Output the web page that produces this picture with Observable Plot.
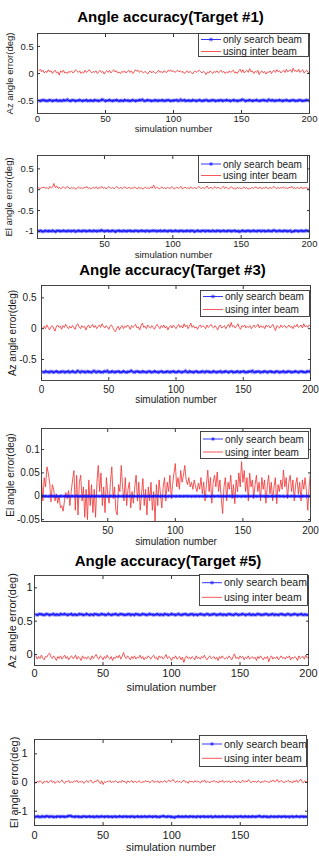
<!DOCTYPE html>
<html>
<head>
<meta charset="utf-8">
<script src="https://cdn.jsdelivr.net/npm/d3@7"></script>
<script src="https://cdn.jsdelivr.net/npm/@observablehq/plot@0.6"></script>
<style>
  html, body { margin: 0; padding: 0; background: #fff; }
  #page { position: relative; width: 319px; height: 859px; overflow: hidden;
          font-family: "Liberation Sans", Arial, sans-serif; }
  .title { position: absolute; width: 300px; text-align: center; font-weight: bold;
           font-size: 15px; line-height: 15px; color: #000; white-space: nowrap; }
  .panel, .legend { position: absolute; left: 0; overflow: visible; }
</style>
</head>
<body>
<div id="page"></div>
<script>
// ---- text ----
const titles = ["Angle accuracy(Target #1)", "Angle accuracy(Target #3)", "Angle accuracy(Target #5)"];
const seriesNames = ["only search beam", "using inter beam"];
const xLabel = "simulation number";
const yLabels = ["Az angle error(deg)", "El angle error(deg)"];

// ---- tick values ----
const xTicksFull = [0, 50, 100, 150, 200];
const xTicksNoZero = [50, 100, 150, 200];
const xTicksLast = [0, 50, 100, 150];
const yTicksAz1 = [-0.5, 0, 0.5];
const yTicksEl1 = [-1, -0.5, 0, 0.5];
const yTicksAz3 = [-0.5, 0, 0.5];
const yTicksEl3 = [-0.05, 0, 0.05, 0.1];
const yTicksAz5 = [0, 0.5, 1];
const yTicksEl5 = [-1, 0, 1];

// ---- Target #1, azimuth error (deg) per simulation ----
const az1Search = [
-.5,-.51,-.5,-.49,-.5,-.5,-.51,-.5,-.49,-.5,-.51,-.5,-.5,-.49,-.51,-.5,-.5,-.51,-.49,-.5,
-.5,-.48,-.5,-.51,-.5,-.49,-.5,-.51,-.5,-.5,-.49,-.5,-.51,-.5,-.5,-.49,-.51,-.5,-.5,-.5,
-.51,-.49,-.5,-.5,-.51,-.5,-.49,-.48,-.5,-.51,-.5,-.5,-.49,-.5,-.51,-.5,-.5,-.49,-.5,-.51,
-.5,-.5,-.51,-.49,-.5,-.5,-.5,-.51,-.5,-.49,-.5,-.51,-.5,-.5,-.49,-.5,-.48,-.5,-.51,-.5,
-.49,-.5,-.5,-.51,-.5,-.5,-.49,-.51,-.5,-.5,-.5,-.49,-.51,-.5,-.5,-.49,-.5,-.51,-.5,-.5,
-.5,-.49,-.5,-.51,-.48,-.5,-.5,-.49,-.51,-.5,-.5,-.5,-.51,-.49,-.5,-.5,-.51,-.5,-.49,-.5,
-.51,-.5,-.5,-.49,-.5,-.51,-.5,-.5,-.49,-.5,-.51,-.5,-.5,-.5,-.49,-.51,-.5,-.5,-.49,-.5,
-.5,-.51,-.5,-.49,-.5,-.5,-.51,-.5,-.5,-.49,-.48,-.5,-.51,-.5,-.5,-.49,-.5,-.51,-.5,-.5,
-.49,-.5,-.51,-.5,-.5,-.49,-.5,-.5,-.51,-.48,-.5,-.5,-.49,-.51,-.5,-.5,-.5,-.49,-.5,-.51,
-.5,-.5,-.49,-.5,-.51,-.5,-.5,-.49,-.5,-.51,-.5,-.5,-.49,-.5,-.51,-.5,-.5,-.49,-.5,-.5];
const az1Inter = [
.05,.08,.03,.06,.01,.04,.02,.07,.03,.05,0,.04,.06,.01,.03,-.03,.05,.02,.06,.01,
.03,0,.04,.02,.05,.01,.03,.07,.04,.02,.05,0,.03,.01,.06,.02,.04,.07,.03,.01,
.04,.02,.05,0,.03,.06,.02,.04,-.01,.03,.05,.02,.06,.01,.04,.07,.03,.05,.01,.03,
0,.04,.02,.05,.01,.03,.06,.02,.05,0,.03,.07,.04,.06,.02,.05,.03,.01,.04,.02,
-.01,.03,.05,.01,.04,.02,0,.03,.06,.02,.04,.01,.05,.03,.02,.06,.04,.07,.03,.05,
.02,.04,.06,.03,.05,.02,.04,0,.03,.05,.01,.04,.02,-.01,.03,.05,.02,.04,.06,.03,
.01,.04,.02,-.02,.03,.01,.05,.02,0,.04,.02,.05,.01,.03,.06,.02,.04,0,.03,.01,
.05,.02,.04,.06,.01,.03,0,.05,.08,.02,.07,.01,.04,.06,.02,.09,.03,.05,0,.04,
.02,.06,-.02,.03,.05,.01,.04,-.01,.03,.02,.05,0,.04,.06,.02,.07,.03,.05,.01,.04,
.06,.02,.08,.03,.05,.07,.02,.1,.04,.06,.03,.08,.02,.05,.07,.01,.04,.06,.02,.03];

// ---- Target #1, elevation error (deg) ----
const el1Search = [
-.99,-1,-.98,-.99,-1.01,-.99,-.98,-1,-.99,-.99,-1,-.98,-.99,-1.01,-.99,-.98,-.99,-1,-.99,-.98,
-.99,-1,-.99,-.98,-1,-.99,-.99,-.98,-1.01,-.99,-.98,-.99,-1,-.99,-.98,-.99,-1,-.99,-.98,-.99,
-1,-.98,-.99,-.99,-1,-.98,-.99,-.97,-.99,-1,-.99,-.98,-.99,-1,-.99,-.98,-.99,-1.01,-.99,-.98,
-.99,-.99,-1,-.98,-.99,-1,-.99,-.98,-.99,-.99,-1,-.99,-.98,-.99,-1,-.99,-.98,-.99,-.99,-1,
-.98,-.99,-1,-.99,-.98,-.99,-.98,-1,-.99,-.99,-.98,-1,-.99,-.98,-.99,-1,-.99,-.98,-.99,-1,
-.99,-.98,-.99,-1,-.99,-.98,-.99,-1,-.99,-.99,-.98,-1,-.99,-.98,-.99,-1.01,-.99,-.98,-.99,-1,
-.99,-.98,-.99,-1,-.98,-.99,-.99,-1,-.98,-.99,-1,-.99,-.98,-.99,-1,-.99,-.98,-.99,-1,-.99,
-.98,-.99,-1,-.99,-.98,-.99,-1,-.99,-1.01,-.99,-.98,-.99,-1,-.99,-.98,-.99,-1,-.99,-.98,-.99,
-1,-.99,-.98,-.99,-1,-.98,-.99,-1,-.99,-.98,-.99,-1,-.99,-.97,-.99,-1,-.99,-.98,-.99,-1,
-.99,-.98,-.99,-1,-.99,-.98,-1.01,-1,-.99,-.98,-.99,-1,-.99,-.98,-.99,-1,-.98,-.98,-.99,-1];
const el1Inter = [
.03,.05,.02,.06,.04,.07,.03,.05,.02,.08,.04,.06,.15,.05,.09,.03,.06,.02,.05,.07,
.03,.05,.08,.04,.02,.06,.03,.05,.01,.04,.07,.03,.05,.02,.06,.04,.08,.03,.05,.02,
.04,.06,.03,.07,.02,.05,.04,.08,.03,.06,.02,.04,.07,.05,.03,.06,.02,.05,.08,.04,
.03,.06,.02,.05,.07,.03,.04,.06,.02,.05,.03,.07,.04,.02,.06,.03,.05,.01,.04,.06,
.03,.05,.02,.07,.04,.11,.03,.06,.05,.02,.04,.07,.03,.05,.02,.06,.04,.03,.07,.05,
.02,.04,.06,.03,.05,.08,.02,.04,.06,.03,.05,.02,.07,.04,.03,.06,.02,.05,.08,.04,
.03,.06,.02,.05,.09,.03,.04,.06,.02,.05,.07,.03,.06,.04,.02,.05,.08,.03,.06,.04,
.02,.05,.07,.03,.04,.01,.06,.03,.05,.02,.04,.07,.03,.05,.01,.04,.02,.06,.03,.05,
.07,.03,.04,.06,.02,.05,.03,.07,.04,.02,.06,.03,.05,.08,.04,.02,.06,.03,.05,.04,
.07,.03,.05,.02,.06,.04,.08,.03,.05,.02,.06,.04,.03,.07,.02,.05,.04,.06,.01,.05];

// ---- Target #3, azimuth error (deg) ----
const az3Search = [
-.7,-.71,-.69,-.7,-.7,-.71,-.69,-.7,-.71,-.7,-.69,-.7,-.71,-.7,-.7,-.69,-.71,-.7,-.7,-.69,
-.71,-.7,-.69,-.7,-.71,-.7,-.68,-.7,-.71,-.69,-.7,-.7,-.71,-.69,-.7,-.7,-.71,-.7,-.68,-.7,
-.71,-.69,-.7,-.7,-.71,-.7,-.69,-.7,-.68,-.71,-.7,-.7,-.69,-.71,-.7,-.7,-.69,-.7,-.71,-.7,
-.69,-.7,-.71,-.7,-.7,-.69,-.68,-.7,-.71,-.7,-.69,-.7,-.7,-.71,-.69,-.7,-.7,-.71,-.7,-.69,
-.7,-.71,-.7,-.69,-.7,-.7,-.71,-.7,-.69,-.7,-.71,-.7,-.7,-.69,-.71,-.7,-.7,-.69,-.7,-.71,
-.7,-.69,-.7,-.71,-.7,-.7,-.68,-.7,-.71,-.69,-.7,-.7,-.71,-.7,-.69,-.7,-.71,-.7,-.7,-.69,
-.71,-.7,-.69,-.7,-.7,-.71,-.7,-.69,-.7,-.71,-.7,-.7,-.69,-.71,-.7,-.7,-.69,-.7,-.71,-.7,
-.69,-.7,-.71,-.7,-.7,-.69,-.71,-.7,-.7,-.69,-.7,-.71,-.7,-.7,-.69,-.7,-.68,-.71,-.7,-.7,
-.69,-.7,-.71,-.7,-.7,-.69,-.7,-.71,-.7,-.69,-.7,-.7,-.71,-.7,-.69,-.7,-.71,-.7,-.7,-.69,
-.71,-.7,-.7,-.69,-.7,-.71,-.7,-.7,-.69,-.7,-.71,-.7,-.69,-.7,-.7,-.71,-.7,-.69,-.7,-.68];
const az3Inter = [
.01,.04,0,.06,.02,-.02,.03,.05,.01,-.04,.03,.06,.02,.04,-.01,.05,.02,.07,.03,0,
.04,.01,.05,.02,-.01,.06,.08,.03,0,.05,.02,.04,-.02,.03,.06,.01,.04,.07,.02,.05,
0,.03,.06,.02,.08,.04,.01,.05,.03,-.01,.04,.06,.02,-.03,-.05,.01,.04,-.02,.03,.05,
0,.04,.02,.06,.03,-.01,.05,.02,.04,.07,.01,.03,-.02,.05,.09,.02,.04,0,.06,.03,
.01,.05,.02,-.01,.04,.07,.03,0,.05,.02,.06,.01,.04,-.02,.03,.05,.01,.06,.03,0,
.04,.07,.02,.05,.01,.08,.03,.06,0,.04,.09,.02,.05,.01,.03,-.01,.04,.06,.02,.05,
.03,0,.06,.02,.04,.07,.03,.01,.05,.02,-.02,.04,.06,.01,.03,.05,0,.04,.07,.02,
.1,.03,.05,.01,.04,.08,.02,-.01,.05,.03,.06,.01,.04,.02,.05,0,.03,.06,.02,.04,
.07,.01,.05,.02,.04,0,.06,.03,.05,.01,.04,.07,.02,-.03,.05,.03,.01,.06,.02,.04,
.05,.01,.03,.06,.02,.04,0,.05,.03,.07,.02,.04,.06,.01,.08,.03,.05,.02,.06,.04];

// ---- Target #3, elevation error (deg) ----
const el3Search = [
0,.0004,-.0003,.0002,0,-.0005,.0003,0,.0006,-.0002,0,.0003,-.0004,.0001,0,.0005,-.0003,.0002,0,-.0001,
.0003,-.0002,0,.0004,-.0003,.0001,.0005,0,-.0004,.0002,.0001,-.0003,.0004,0,-.0002,.0003,-.0005,.0001,.0002,0,
-.0002,.0004,0,-.0003,.0002,.0005,-.0001,0,.0003,-.0004,.0001,0,.0004,-.0002,.0003,0,-.0005,.0002,.0001,-.0003,
.0004,0,-.0002,.0003,-.0001,0,.0005,-.0003,.0002,0,-.0004,.0001,.0003,-.0002,0,.0004,-.0001,.0002,-.0003,0,
.0003,-.0004,.0001,0,.0005,-.0002,.0003,0,-.0003,.0004,-.0001,.0002,0,-.0005,.0003,.0001,-.0002,0,.0004,-.0003,
.0002,0,-.0001,.0004,-.0003,.0001,0,.0005,-.0002,.0003,0,-.0004,.0002,.0001,-.0003,.0004,0,-.0002,.0003,-.0001,
0,.0005,-.0003,.0002,0,-.0004,.0001,.0003,-.0002,0,.0004,-.0001,.0002,-.0003,0,.0003,-.0004,.0001,0,.0005,
-.0002,.0003,0,-.0003,.0004,-.0001,.0002,0,-.0005,.0003,.0001,-.0002,0,.0004,-.0003,.0002,0,-.0001,.0004,-.0003,
.0001,0,.0005,-.0002,.0003,0,-.0004,.0002,.0001,-.0003,.0004,0,-.0002,.0003,-.0001,0,.0005,-.0003,.0002,0,
-.0004,.0001,.0003,-.0002,0,.0004,-.0001,.0002,-.0003,0,.0003,-.0004,.0001,0,.0005,-.0002,.0003,0,-.0003,.0002];
const el3Inter = [
.035,-.01,.04,.02,.063,.05,.03,-.012,.025,.015,-.01,.005,-.015,.002,-.025,-.02,-.032,-.01,.008,-.005,
.012,-.02,.01,.035,.055,-.03,.045,-.04,.03,.045,-.01,.02,-.045,.015,-.05,.035,-.02,.025,-.035,.015,
-.045,.03,.066,.01,.05,-.02,.02,-.035,.04,.005,-.015,.03,.063,-.005,.02,-.03,-.04,.025,.01,.066,
.02,-.01,.04,-.02,.015,.03,-.025,.01,-.015,.02,.045,-.01,.03,-.03,.005,.038,-.02,.015,-.04,.02,
-.01,.03,-.03,.01,-.055,.025,-.02,.035,.005,-.025,.02,.04,-.01,.03,.01,.045,-.005,.025,.05,.07,
.02,.04,.015,.055,.03,.045,.066,.035,.025,.04,.02,.03,.015,.035,.02,.01,.028,.015,.04,.005,
.03,-.01,.025,.056,.01,.04,-.015,.03,.045,.02,.052,.01,.035,-.005,-.037,.02,.04,-.01,.03,.015,
.045,-.005,.025,-.016,.035,.01,.05,.02,.074,.03,.055,.01,.04,-.01,.05,.02,.035,-.005,.025,.045,
.01,.03,-.01,.04,.015,.035,-.015,.02,.045,.005,.03,-.01,.02,.04,-.016,.025,.01,.035,.015,.056,
.02,.04,-.005,.03,.045,.01,.035,-.01,.025,.04,.005,.03,-.01,.035,.015,.04,.01,-.03,.02,.052];

// ---- Target #5, azimuth error (deg) ----
const az5Search = [
.6,.59,.6,.61,.6,.6,.59,.6,.61,.6,.59,.6,.6,.61,.59,.6,.6,.59,.61,.6,
.6,.61,.6,.59,.6,.6,.61,.59,.6,.6,.59,.6,.61,.6,.6,.59,.6,.61,.6,.59,
.6,.6,.59,.61,.6,.6,.59,.6,.61,.6,.6,.59,.6,.61,.6,.59,.6,.6,.61,.6,
.59,.6,.61,.6,.6,.59,.6,.6,.61,.59,.6,.6,.59,.61,.6,.6,.59,.6,.61,.6,
.6,.59,.6,.61,.6,.6,.59,.6,.6,.61,.59,.6,.6,.59,.61,.6,.6,.59,.6,.61,
.6,.6,.59,.6,.61,.6,.59,.6,.6,.61,.6,.59,.6,.6,.61,.59,.6,.6,.59,.6,
.61,.6,.6,.59,.6,.61,.6,.59,.6,.6,.61,.6,.59,.6,.6,.61,.59,.6,.6,.59,
.6,.61,.6,.6,.59,.6,.61,.6,.59,.6,.6,.61,.6,.59,.6,.6,.61,.59,.6,.6,
.59,.6,.61,.6,.6,.59,.6,.6,.61,.6,.59,.6,.6,.61,.59,.6,.6,.59,.6,.61,
.6,.6,.59,.6,.61,.6,.59,.6,.6,.61,.6,.59,.6,.6,.61,.59,.6,.6,.59,.6];
const az5Inter = [
-.02,-.07,-.03,-.06,-.01,-.05,-.08,-.03,-.04,0,.02,-.04,-.06,-.02,-.05,-.09,-.03,-.06,-.02,-.07,
-.04,-.01,-.06,-.03,-.08,-.04,-.02,-.06,-.05,-.01,-.07,-.03,-.05,-.09,-.02,-.06,-.04,-.07,-.03,-.05,
-.08,-.02,-.06,-.03,0,-.05,-.07,-.02,-.04,-.08,-.03,-.06,-.01,-.05,-.07,-.03,-.09,-.04,-.06,-.02,
-.05,-.01,-.07,-.03,.03,-.04,-.06,-.02,-.05,-.08,-.03,-.06,-.02,-.07,-.04,-.05,-.01,-.06,-.03,-.08,
-.04,-.06,-.02,-.05,-.07,-.03,-.01,-.06,-.04,-.08,-.02,-.05,-.03,-.07,-.04,0,-.06,-.03,-.05,-.09,
-.04,-.06,-.02,-.07,-.05,-.03,-.08,-.04,-.12,-.05,-.02,-.06,-.04,-.07,-.03,-.05,-.08,-.02,-.06,-.04,
-.07,-.03,-.05,-.01,-.06,-.08,-.04,-.02,-.06,-.05,-.03,-.07,-.04,-.09,-.03,-.06,-.02,-.05,-.07,-.04,
-.06,-.02,-.05,-.08,-.03,.01,-.06,-.04,-.07,-.02,-.05,-.03,-.08,-.04,-.06,-.02,-.07,-.05,-.03,-.06,
-.04,-.09,-.03,-.06,-.02,-.05,-.08,-.04,-.06,-.03,-.11,-.05,-.02,-.07,-.04,-.06,-.03,-.08,-.05,-.02,
-.06,-.04,-.07,-.03,-.05,-.02,-.08,-.04,-.06,-.03,-.05,-.09,-.02,-.06,-.04,-.03,-.07,-.01,-.05,-.04];

// ---- Target #5, elevation error (deg), simulations 0..199 ----
const el5Search = [
-1.19,-1.2,-1.18,-1.19,-1.21,-1.19,-1.18,-1.2,-1.19,-1.17,-1.19,-1.2,-1.18,-1.19,-1.21,-1.19,-1.2,-1.18,-1.19,-1.2,
-1.18,-1.19,-1.2,-1.19,-1.18,-1.17,-1.16,-1.18,-1.19,-1.2,-1.19,-1.18,-1.2,-1.19,-1.21,-1.19,-1.18,-1.19,-1.2,-1.19,
-1.18,-1.2,-1.19,-1.19,-1.21,-1.18,-1.19,-1.2,-1.19,-1.18,-1.19,-1.2,-1.19,-1.18,-1.2,-1.19,-1.19,-1.21,-1.18,-1.19,
-1.2,-1.19,-1.18,-1.19,-1.2,-1.19,-1.18,-1.2,-1.19,-1.19,-1.2,-1.18,-1.19,-1.21,-1.19,-1.18,-1.2,-1.19,-1.19,-1.2,
-1.18,-1.19,-1.2,-1.19,-1.18,-1.19,-1.2,-1.19,-1.18,-1.2,-1.19,-1.21,-1.19,-1.18,-1.17,-1.19,-1.2,-1.19,-1.18,-1.2,
-1.19,-1.21,-1.22,-1.2,-1.19,-1.18,-1.2,-1.19,-1.19,-1.2,-1.18,-1.19,-1.2,-1.19,-1.18,-1.2,-1.19,-1.19,-1.21,-1.18,
-1.19,-1.2,-1.19,-1.18,-1.2,-1.19,-1.19,-1.2,-1.18,-1.19,-1.21,-1.19,-1.18,-1.2,-1.19,-1.19,-1.2,-1.18,-1.19,-1.2,
-1.19,-1.18,-1.2,-1.19,-1.19,-1.21,-1.18,-1.19,-1.2,-1.19,-1.18,-1.19,-1.2,-1.19,-1.18,-1.2,-1.19,-1.19,-1.2,-1.18,
-1.19,-1.2,-1.19,-1.18,-1.17,-1.19,-1.2,-1.19,-1.18,-1.2,-1.19,-1.21,-1.19,-1.18,-1.2,-1.19,-1.19,-1.2,-1.18,-1.19,
-1.2,-1.19,-1.18,-1.2,-1.19,-1.19,-1.21,-1.18,-1.19,-1.2,-1.19,-1.18,-1.19,-1.2,-1.19,-1.18,-1.2,-1.19,-1.19,-1.2];
const el5Inter = [
.02,-.03,.05,0,.07,.02,-.04,.04,.01,.06,-.02,.03,.08,0,.05,-.03,.02,.06,-.01,.04,
.09,.01,-.03,.05,.02,.07,-.02,.03,0,.06,.02,.08,-.01,.04,.01,.05,-.03,.02,.07,0,
.04,.09,.01,-.02,.05,.03,.1,.02,-.04,.06,-.07,.03,0,.05,.02,.07,-.01,.04,.01,.06,
.03,-.02,.05,0,.08,.02,.04,-.03,.06,.01,.03,.07,-.01,.05,.02,0,.06,.03,-.02,.04,
.01,.07,.02,.05,-.01,.03,.08,0,.04,.02,.06,-.02,.05,.01,.03,.07,0,.04,.09,.02,
.05,.11,.03,0,.06,.02,.04,-.01,.05,.08,.01,.03,-.03,.06,.02,.04,0,.07,.01,.05,
.02,-.02,.06,.03,.09,0,.04,.02,-.01,.05,.03,.07,.01,.04,-.02,.06,.02,.08,0,.03,
.05,.01,.06,-.01,.04,.02,.07,0,.03,.05,-.02,.04,.08,.01,.06,.02,.1,.03,-.01,.05,
.02,.04,0,.06,.03,-.02,.05,.01,.07,.02,.04,-.01,.06,.03,.09,.02,.05,.11,.01,.04,
.07,.02,-.01,.05,.03,.08,.01,.04,-.02,.06,.02,.09,0,.05,.12,.03,-.01,.06,.02,.04];

// ---- styling ----
const BLUE = "#1010ff";
const RED = "#f23a3a";
const AXIS = "#333";
const INK = "#1a1a1a";
const FONT = "Liberation Sans, Arial, Helvetica, sans-serif";

// Layout of each subplot (pixel boxes of the svg and its axes frame).
const panels = [
  { title: 0, ylabel: 0, search: az1Search, inter: az1Inter, x0: 1,
    svg: [26, 136], frame: [37, 309, 33, 113], xDomain: [0, 200], xTicks: xTicksFull,
    yDomain: [-0.74, 0.74], yTicks: yTicksAz1, font: 9.5, xPad: 1.6, yPad: 3.7, xLabelOffset: 18.3, yLabelX: 10,
    legend: { left: 198, top: 33, w: 111, h: 24, r1: 6.5, r2: 18.5, font: 10 } },
  { ylabel: 1, search: el1Search, inter: el1Inter, x0: 1,
    svg: [145, 262], frame: [37, 309, 155, 238], xDomain: [1, 200], xTicks: xTicksNoZero,
    yDomain: [-1.17, 0.82], yTicks: yTicksEl1, font: 9.5, xPad: 1.9, yPad: 3.7, xLabelOffset: 19.9, yLabelX: 9,
    legend: { left: 198, top: 155, w: 110, h: 28, r1: 9, r2: 20.5, font: 10 } },
  { title: 1, ylabel: 0, search: az3Search, inter: az3Inter, x0: 1,
    svg: [279, 405], frame: [41, 310, 285, 380], xDomain: [0, 200], xTicks: xTicksFull,
    yDomain: [-0.84, 0.70], yTicks: yTicksAz3, font: 10, xPad: 5.2, yPad: 5, xLabelOffset: 22.6, yLabelX: 12.5,
    legend: { left: 200, top: 290, w: 110, h: 27, r1: 6.5, r2: 19.5, font: 10 } },
  { ylabel: 1, search: el3Search, inter: el3Inter, x0: 1,
    svg: [418, 548], frame: [41, 310, 428, 521], xDomain: [1, 200], xTicks: xTicksNoZero,
    yDomain: [-0.054, 0.145], yTicks: yTicksEl3, font: 10, xPad: 5, yPad: 1.8, xLabelOffset: 23.6, yLabelX: 10,
    legend: { left: 200, top: 431, w: 109, h: 28, r1: 8, r2: 21, font: 10 } },
  { title: 2, ylabel: 0, search: az5Search, inter: az5Inter, x0: 1,
    svg: [570, 695], frame: [34, 308, 575, 665], xDomain: [0, 200], xTicks: xTicksFull,
    yDomain: [-0.165, 1.185], yTicks: yTicksAz5, font: 11, xPad: 4, yPad: 2, xLabelOffset: 25.8, yLabelX: 12,
    legend: { left: 199, top: 574, w: 109, h: 32, r1: 8.7, r2: 23.3, font: 10.5 } },
  { ylabel: 1, search: el5Search, inter: el5Inter, x0: 0,
    svg: [729, 855], frame: [34, 307, 739, 825], xDomain: [0, 199], xTicks: xTicksLast,
    yDomain: [-1.5, 1.5], yTicks: yTicksEl5, font: 11, xPad: 5.5, yPad: 7, xLabelOffset: 25.2, yLabelX: 13.8,
    legend: { left: 199, top: 735, w: 108, h: 32, r1: 9, r2: 23.3, font: 10.5 } }
];

// Title boxes: top of the line box and horizontal centre
const titleBoxes = [{ top: 9, cx: 170.5 }, { top: 262.3, cx: 172.5 }, { top: 553, cx: 168 }];

const page = document.getElementById("page");

titleBoxes.forEach((b, k) => {
  const div = document.createElement("div");
  div.className = "title";
  div.style.top = b.top + "px";
  div.style.left = (b.cx - 150) + "px";
  div.textContent = titles[k];
  page.appendChild(div);
});

function drawPanel(p) {
  const [fl, fr, ft, fb] = p.frame;
  const [st, sb] = p.svg;
  const xOf = (d, i) => i + p.x0;
  const chart = Plot.plot({
    width: 319,
    height: sb - st,
    marginLeft: fl,
    marginRight: 319 - fr,
    marginTop: ft - st,
    marginBottom: sb - fb,
    x: { domain: p.xDomain },
    y: { domain: p.yDomain },
    style: { fontFamily: FONT, background: "none", overflow: "visible" },
    marks: [
      Plot.lineY(p.inter, { x: xOf, y: d => d, stroke: RED, strokeWidth: 0.85, clip: true }),
      Plot.lineY(p.search, { x: xOf, y: d => d, stroke: BLUE, strokeWidth: 0.8, clip: true }),
      Plot.dot(p.search, { x: xOf, y: d => d, symbol: "asterisk", r: 1.7, stroke: BLUE, strokeWidth: 0.55, clip: true }),
      Plot.frame({ stroke: AXIS, strokeWidth: 0.9 }),
      Plot.axisX(p.xTicks, {
        anchor: "bottom", tickSize: -3, tickPadding: p.xPad + 3, tickFormat: d => String(d),
        fontSize: p.font, stroke: AXIS, fill: INK,
        label: xLabel, labelAnchor: "center", labelArrow: "none", labelOffset: p.xLabelOffset
      }),
      Plot.axisX(p.xTicks, { anchor: "top", tickSize: -3, tickFormat: () => "", label: null, stroke: AXIS }),
      Plot.axisY(p.yTicks, {
        anchor: "left", tickSize: -3, tickPadding: p.yPad + 3, tickFormat: d => String(d),
        fontSize: p.font, stroke: AXIS, fill: INK,
        label: yLabels[p.ylabel], labelAnchor: "center", labelArrow: "none",
        labelOffset: fl - (p.yLabelX - 0.4 * p.font)
      }),
      Plot.axisY(p.yTicks, { anchor: "right", tickSize: -3, tickFormat: () => "", label: null, stroke: AXIS })
    ]
  });
  chart.classList.add("panel");
  chart.style.top = st + "px";
  page.appendChild(chart);
}

function drawLegend(p) {
  const L = p.legend;
  const svg = d3.select(page).append("svg")
    .attr("class", "legend")
    .attr("width", L.w).attr("height", L.h)
    .style("left", L.left + "px").style("top", L.top + "px");
  svg.append("rect")
    .attr("x", 0.5).attr("y", 0.5).attr("width", L.w - 1).attr("height", L.h - 1)
    .attr("fill", "#fff").attr("stroke", AXIS).attr("stroke-width", 0.9);
  const rows = [
    { name: seriesNames[0], color: BLUE, y: L.r1, marker: true },
    { name: seriesNames[1], color: RED, y: L.r2, marker: false }
  ];
  const sym = d3.symbol(d3.symbolAsterisk, 10)();
  rows.forEach(r => {
    svg.append("line").attr("x1", 3).attr("x2", 23).attr("y1", r.y).attr("y2", r.y)
      .attr("stroke", r.color).attr("stroke-width", 0.85);
    if (r.marker) {
      svg.append("path").attr("d", sym).attr("transform", `translate(13,${r.y})`)
        .attr("fill", "none").attr("stroke", r.color).attr("stroke-width", 0.7);
    }
    svg.append("text").attr("x", 25).attr("y", r.y).attr("dy", "0.35em")
      .attr("font-family", FONT).attr("font-size", L.font).attr("fill", INK)
      .text(r.name);
  });
}

panels.forEach(p => { drawPanel(p); drawLegend(p); });
</script>
</body>
</html>
